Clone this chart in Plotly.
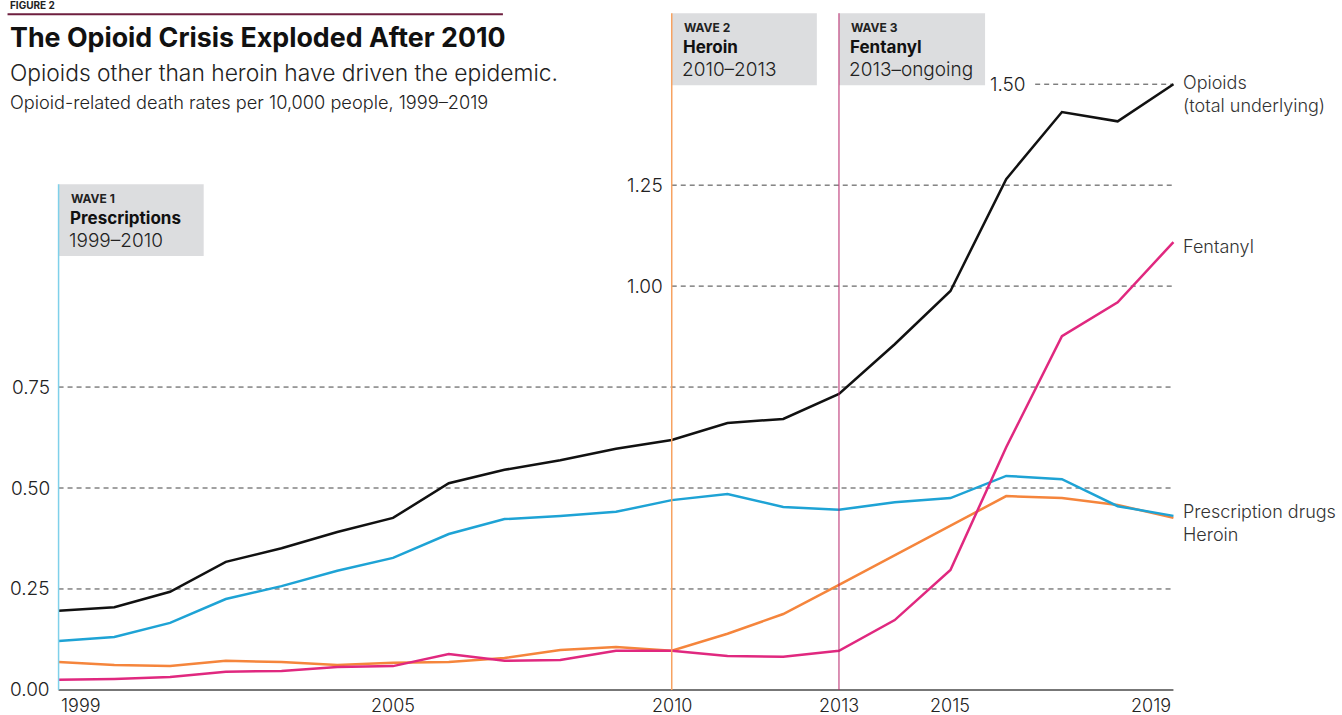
import plotly.graph_objects as go

years = list(range(1999, 2020))
opioids_total = [0.196, 0.205, 0.243, 0.317, 0.351, 0.391, 0.426, 0.512, 0.545, 0.569, 0.597,
                 0.619, 0.661, 0.671, 0.733, 0.856, 0.988, 1.265, 1.431, 1.408, 1.500]
prescription = [0.121, 0.131, 0.166, 0.225, 0.257, 0.295, 0.327, 0.386, 0.423, 0.431, 0.441,
                0.470, 0.485, 0.453, 0.446, 0.465, 0.475, 0.530, 0.522, 0.455, 0.431]
heroin = [0.069, 0.062, 0.059, 0.072, 0.069, 0.062, 0.067, 0.069, 0.079, 0.099, 0.106,
          0.097, 0.139, 0.188, 0.260, 0.334, 0.408, 0.480, 0.475, 0.458, 0.426]
fentanyl = [0.025, 0.027, 0.032, 0.045, 0.047, 0.057, 0.059, 0.089, 0.072, 0.074, 0.097,
            0.097, 0.084, 0.082, 0.097, 0.173, 0.297, 0.601, 0.876, 0.960, 1.109]

x_ticks = [1999, 2005, 2010, 2013, 2015, 2019]
y_ticks = [0.0, 0.25, 0.5, 0.75, 1.0, 1.25, 1.5]
y_tick_labels = ["0.00", "0.25", "0.50", "0.75", "1.00", "1.25", "1.50"]
# year where each gridline (and its label) starts
grid_start = [None, 1999, 1999, 1999, 2010, 2010, 2016.52]

wave_years = [1999, 2010, 2013]
wave_labels = ["WAVE 1", "WAVE 2", "WAVE 3"]
wave_names = ["Prescriptions", "Heroin", "Fentanyl"]
wave_spans = ["1999–2010", "2010–2013", "2013–ongoing"]
wave_colors = ["#7fd0ea", "#f7a261", "#b8246a"]
wave_widths = [1.5, 1.5, 1]
wave_top_px = [184, 13, 13]

FONT = "Inter"
TXT = "#222222"

# ---- pixel layout ----
W, H = 1342, 715
X0_PX, X1_PX = 59, 1173     # 1999 and 2019
Y0_PX, PX_PER_UNIT = 690, 404
XR = [1998.9, 2019.1]
YR = [-0.02, 1.55]
ppy = (X1_PX - X0_PX) / 20
L = X0_PX - (1999 - XR[0]) * ppy
R = W - (X1_PX + (XR[1] - 2019) * ppy)
B = H - (Y0_PX - YR[0] * PX_PER_UNIT)
T = Y0_PX - YR[1] * PX_PER_UNIT
pw, ph = W - L - R, H - T - B


def px_x(p):
    return (p - L) / pw


def px_y(p):
    return (H - p - B) / ph


fig = go.Figure()

series = [
    ("Heroin", heroin, "#f5853c"),
    ("Prescription drugs", prescription, "#1ea3d5"),
    ("Fentanyl", fentanyl, "#e0287f"),
    ("Opioids", opioids_total, "#111111"),
]
for name, vals, col in series:
    fig.add_trace(go.Scatter(x=years, y=vals, mode="lines", name=name,
                             line=dict(color=col, width=2.5), showlegend=False))

shapes = []
annotations = []

# gridlines + y labels
for v, lab, gs in zip(y_ticks, y_tick_labels, grid_start):
    if gs is not None:
        shapes.append(dict(type="line", xref="x", yref="y", x0=gs, x1=2019, y0=v, y1=v,
                           line=dict(color="#444444", width=1, dash="5px,4px"), layer="below"))
    xs = 1999 if gs is None else gs
    annotations.append(dict(x=xs, y=v, xref="x", yref="y", text=lab, showarrow=False,
                            xanchor="right", yanchor="middle", xshift=-7,
                            font=dict(family=FONT, size=19, color=TXT, weight=300)))

# x axis line
shapes.append(dict(type="line", xref="x", yref="y", x0=1999, x1=2019, y0=0, y1=0,
                   line=dict(color="#777777", width=2)))

# x tick labels
for t in x_ticks:
    anchor = "left" if t == x_ticks[0] else ("right" if t == x_ticks[-1] else "center")
    annotations.append(dict(x=t, y=0, xref="x", yref="y", text=str(t), showarrow=False,
                            xanchor=anchor, yanchor="top", yshift=-3,
                            font=dict(family=FONT, size=18, color=TXT, weight=300)))

# wave markers
box_w_px = [145, 145, 146]
for yr, lab, nm, sp, col, lw, top, bw in zip(wave_years, wave_labels, wave_names, wave_spans,
                                             wave_colors, wave_widths, wave_top_px, box_w_px):
    shapes.append(dict(type="rect", xref="x", yref="paper", x0=yr, x1=yr + bw / ppy,
                       y0=px_y(top + 72), y1=px_y(top),
                       fillcolor="#dcdddf", line=dict(width=0), layer="below"))
    shapes.append(dict(type="line", xref="x", yref="paper", x0=yr, x1=yr,
                       y0=px_y(Y0_PX), y1=px_y(top), line=dict(color=col, width=lw)))
    annotations.append(dict(x=yr, y=px_y(top), xref="x", yref="paper",
                            text=f"<b>{lab}</b>", showarrow=False,
                            xanchor="left", yanchor="top", xshift=10, yshift=-5,
                            font=dict(family=FONT, size=12, color=TXT)))
    annotations.append(dict(x=yr, y=px_y(top), xref="x", yref="paper",
                            text=f"<b>{nm}</b>", showarrow=False,
                            xanchor="left", yanchor="top", xshift=9, yshift=-22,
                            font=dict(family=FONT, size=17, color="#111111")))
    annotations.append(dict(x=yr, y=px_y(top), xref="x", yref="paper",
                            text=sp, showarrow=False,
                            xanchor="left", yanchor="top", xshift=8, yshift=-43,
                            font=dict(family=FONT, size=19, color=TXT, weight=300)))

# end labels
end_labels = [
    ("Opioids<br>(total underlying)", opioids_total[-1], -10),
    ("Fentanyl", fentanyl[-1], -4),
    ("Prescription drugs<br>Heroin", prescription[-1], -7),
]
for txt, v, ys in end_labels:
    annotations.append(dict(x=2019, y=v, xref="x", yref="y", text=txt, showarrow=False,
                            xanchor="left", yanchor="middle", xshift=8, yshift=ys, align="left",
                            font=dict(family=FONT, size=18, color="#333333", weight=300)))

# header
header = [
    ("<b>FIGURE 2</b>", -3, 10, 400, TXT),
    ("<b>The Opioid Crisis Exploded After 2010</b>", 19, 26.8, 700, "#111111"),
    ("Opioids other than heroin have driven the epidemic.", 57, 22.8, 300, TXT),
    ("Opioid-related death rates per 10,000 people, 1999–2019", 89, 18.2, 300, TXT),
]
for txt, top, size, wt, col in header:
    annotations.append(dict(x=px_x(8), y=px_y(top), xref="paper", yref="paper", text=txt,
                            showarrow=False, xanchor="left", yanchor="top",
                            font=dict(family=FONT, size=size, color=col, weight=wt)))

shapes.append(dict(type="line", xref="paper", yref="paper",
                   x0=px_x(8), x1=px_x(503), y0=px_y(14), y1=px_y(14),
                   line=dict(color="#6e1f3f", width=2)))

fig.update_layout(
    width=W, height=H,
    margin=dict(l=L, r=R, t=T, b=B),
    plot_bgcolor="white", paper_bgcolor="white",
    xaxis=dict(range=XR, visible=False, fixedrange=True),
    yaxis=dict(range=YR, visible=False, fixedrange=True),
    shapes=shapes, annotations=annotations,
    font=dict(family=FONT),
)

fig.write_html("out.html", config={"displayModeBar": False},
               post_script="document.body.style.margin='0';")
